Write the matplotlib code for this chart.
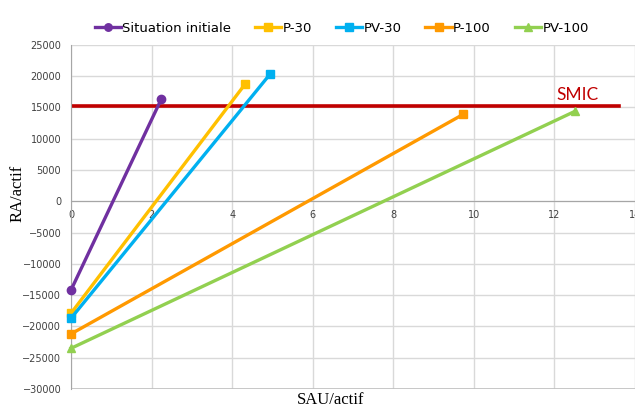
import numpy as np
import matplotlib.pyplot as plt

# ── Data ──────────────────────────────────────────────────────────────────────
SERIES = ["Situation initiale", "P-30", "PV-30", "P-100", "PV-100"]
SAU = {
    "Situation initiale": [0, 2.24],
    "P-30":               [0, 4.32],
    "PV-30":              [0, 4.94],
    "P-100":              [0, 9.74],
    "PV-100":             [0, 12.52],
}
RA = {
    "Situation initiale": [-14200, 16300],
    "P-30":               [-17900, 18700],
    "PV-30":              [-18700, 20300],
    "P-100":              [-21200, 13900],
    "PV-100":             [-23500, 14400],
}
SMIC_X = [0, 13.6]
SMIC_Y = [15200, 15200]

COLOURS = {
    "Situation initiale": "#7030A0",
    "P-30":               "#FFC000",
    "PV-30":              "#00B0F0",
    "P-100":              "#FF9900",
    "PV-100":             "#92D050",
}
MARKERS = {
    "Situation initiale": "o",
    "P-30":               "s",
    "PV-30":              "s",
    "P-100":              "s",
    "PV-100":             "^",
}

XTICKS = np.arange(0, 15, 2)
YTICKS = np.arange(-30000, 25001, 5000)

# ── Plot ──────────────────────────────────────────────────────────────────────
fig = plt.figure(figsize=(6.35, 4.07), dpi=100)
ax = fig.add_axes([0.1118, 0.0442, 0.8882, 0.8458])

for s in SERIES:
    ax.plot(SAU[s], RA[s], color=COLOURS[s], linewidth=2.4, marker=MARKERS[s],
            markersize=6, label=s, zorder=3, clip_on=False)

ax.plot(SMIC_X, SMIC_Y, color="#C00000", linewidth=2.6, zorder=2)
ax.text(12.05, 15650, "SMIC", color="#C00000", fontsize=12.5, family="Lato",
        ha="left", va="bottom")

ax.set_xlim(0, 14)
ax.set_ylim(-30000, 25000)
ax.set_xticks(XTICKS)
ax.set_yticks(YTICKS)
ax.grid(True, color="#D9D9D9", linewidth=1.0)
ax.set_axisbelow(True)

# x axis crosses at y = 0
ax.spines["bottom"].set_position(("data", 0))
ax.spines["bottom"].set_color("#A6A6A6")
ax.spines["left"].set_color("#A6A6A6")
ax.spines["top"].set_visible(False)
ax.spines["right"].set_visible(False)
ax.axhline(-30000, color="#BFBFBF", linewidth=1.2, zorder=1)

ax.tick_params(axis="both", length=0, labelsize=7, labelcolor="#404040")
ax.tick_params(axis="x", pad=6)
ax.tick_params(axis="y", pad=7)

fig.text(0.028, 0.525, "RA/actif", rotation=90, ha="center", va="center",
         fontsize=12, family="Liberation Serif")
fig.text(0.52, 0.018, "SAU/actif", ha="center", va="center",
         fontsize=12, family="Liberation Serif")

fig.legend(loc="center", bbox_to_anchor=(0.538, 0.930), ncol=5, frameon=False,
           fontsize=9.5, handlelength=2.0, handletextpad=0.1, columnspacing=1.8,
           markerscale=0.9)

fig.savefig("out.png", dpi=100)
